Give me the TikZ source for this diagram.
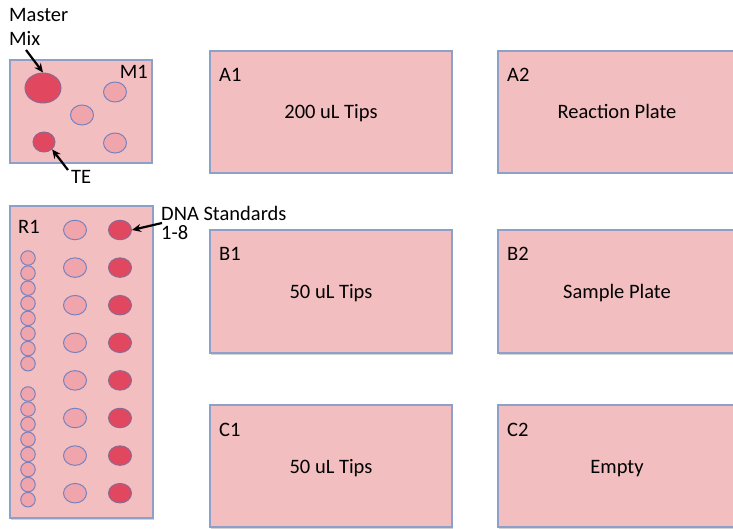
\documentclass[tikz,border=0pt]{standalone}
\usepackage{fontspec}
\setmainfont{Carlito}
\usetikzlibrary{shapes.geometric,shadows,arrows.meta}
\definecolor{boxfill}{RGB}{243,190,192}
\definecolor{boxline}{RGB}{140,160,200}
\definecolor{darkwell}{RGB}{225,72,95}
\definecolor{darkline}{RGB}{140,105,145}
\definecolor{lightwell}{RGB}{240,165,172}
\definecolor{lightline}{RGB}{120,130,190}
\tikzset{
  deck/.style={rectangle, draw=boxline, line width=1.1pt, fill=boxfill, inner sep=0pt,
    drop shadow={shadow xshift=1.2pt, shadow yshift=-1.5pt, opacity=0.35, fill=gray}},
  txt/.style={inner sep=0pt, font=\fontsize{20.5}{24}\selectfont},
  darkw/.style={ellipse, draw=darkline, line width=1pt, fill=darkwell, inner sep=0pt},
  lightw/.style={ellipse, draw=lightline, line width=1pt, fill=lightwell, inner sep=0pt},
  tube/.style={circle, draw=lightline, line width=1pt, fill=lightwell, inner sep=0pt,
    minimum size=14.5pt},
  well/.style={minimum width=23pt, minimum height=19.5pt},
  ptr/.style={-{Stealth[length=9pt,width=8pt]}, line width=2.2pt, black}
}
\begin{document}
\begin{tikzpicture}[x=1pt,y=-1pt]
\useasboundingbox (0,0) rectangle (733,529);
\clip (0,0) rectangle (733,529);
% deck boxes
\node[deck, minimum width=142pt, minimum height=103pt] (m1) at (81,111.5) {};
\node[deck, minimum width=143pt, minimum height=312pt] (r1) at (81.5,362) {};
\node[deck, minimum width=242pt, minimum height=122pt] (a1) at (331,112) {};
\node[deck, minimum width=238pt, minimum height=122pt] (a2) at (617,112) {};
\node[deck, minimum width=242pt, minimum height=123pt] (b1) at (331,291.5) {};
\node[deck, minimum width=238pt, minimum height=123pt] (b2) at (617,291.5) {};
\node[deck, minimum width=242pt, minimum height=122pt] (c1) at (331,466) {};
\node[deck, minimum width=238pt, minimum height=122pt] (c2) at (617,466) {};
% box labels
\node[txt, anchor=base west] (la1) at (219,82) {A1};
\node[txt, anchor=base west] (la2) at (507,82) {A2};
\node[txt, anchor=base west] (lb1) at (219,261) {B1};
\node[txt, anchor=base west] (lb2) at (507,261) {B2};
\node[txt, anchor=base west] (lc1) at (219,436) {C1};
\node[txt, anchor=base west] (lc2) at (507,436) {C2};
\node[txt, anchor=base] (ta1) at (331,119) {200 uL Tips};
\node[txt, anchor=base] (ta2) at (617,119) {Reaction Plate};
\node[txt, anchor=base] (tb1) at (331,298.5) {50 uL Tips};
\node[txt, anchor=base] (tb2) at (617,298.5) {Sample Plate};
\node[txt, anchor=base] (tc1) at (331,473) {50 uL Tips};
\node[txt, anchor=base] (tc2) at (617,473) {Empty};
\node[txt, anchor=base east] (lm1) at (148,78.5) {M1};
\node[txt, anchor=base west] (lr1) at (18,234) {R1};
% M1 wells
\node[darkw, minimum width=36pt, minimum height=30pt] (mm) at (43,88) {};
\node[lightw, minimum width=23pt, minimum height=20pt] (m1a) at (115,92) {};
\node[lightw, minimum width=23pt, minimum height=20pt] (m1b) at (82,115) {};
\node[lightw, minimum width=23pt, minimum height=20pt] (m1c) at (115,143) {};
\node[darkw, minimum width=22pt, minimum height=20pt] (te) at (44,142) {};
% R1 wells
\foreach \i in {1,...,8}{
  \node[lightw, well] (mid\i) at (75,{230+37.6*(\i-1)}) {};
  \node[darkw, well] (std\i) at (120,{230+37.6*(\i-1)}) {};
}
\foreach \i in {1,...,8}{
  \node[tube] (ta\i) at (28,{258+15.1*(\i-1)}) {};
  \node[tube] (tb\i) at (28,{394+15.1*(\i-1)}) {};
}
% annotations
\node[txt, anchor=north west, align=left] (mmtxt) at (9,8) {Master\\Mix};
\node[txt, anchor=base west] (tetxt) at (71,184) {TE};
\node[txt, anchor=north west, align=left, font=\fontsize{20.5}{19}\selectfont] (dnatxt) at (161,206) {DNA Standards\\1-8};
\coordinate (mmtail) at (26,50);
\coordinate (tetail) at (68,170);
\coordinate (dnatail) at (162,223);
\draw[ptr] (mmtail) -- (mm.north);
\draw[ptr] (tetail) -- (te.south east);
\draw[ptr] (dnatail) -- (std1.east);
\end{tikzpicture}
\end{document}
